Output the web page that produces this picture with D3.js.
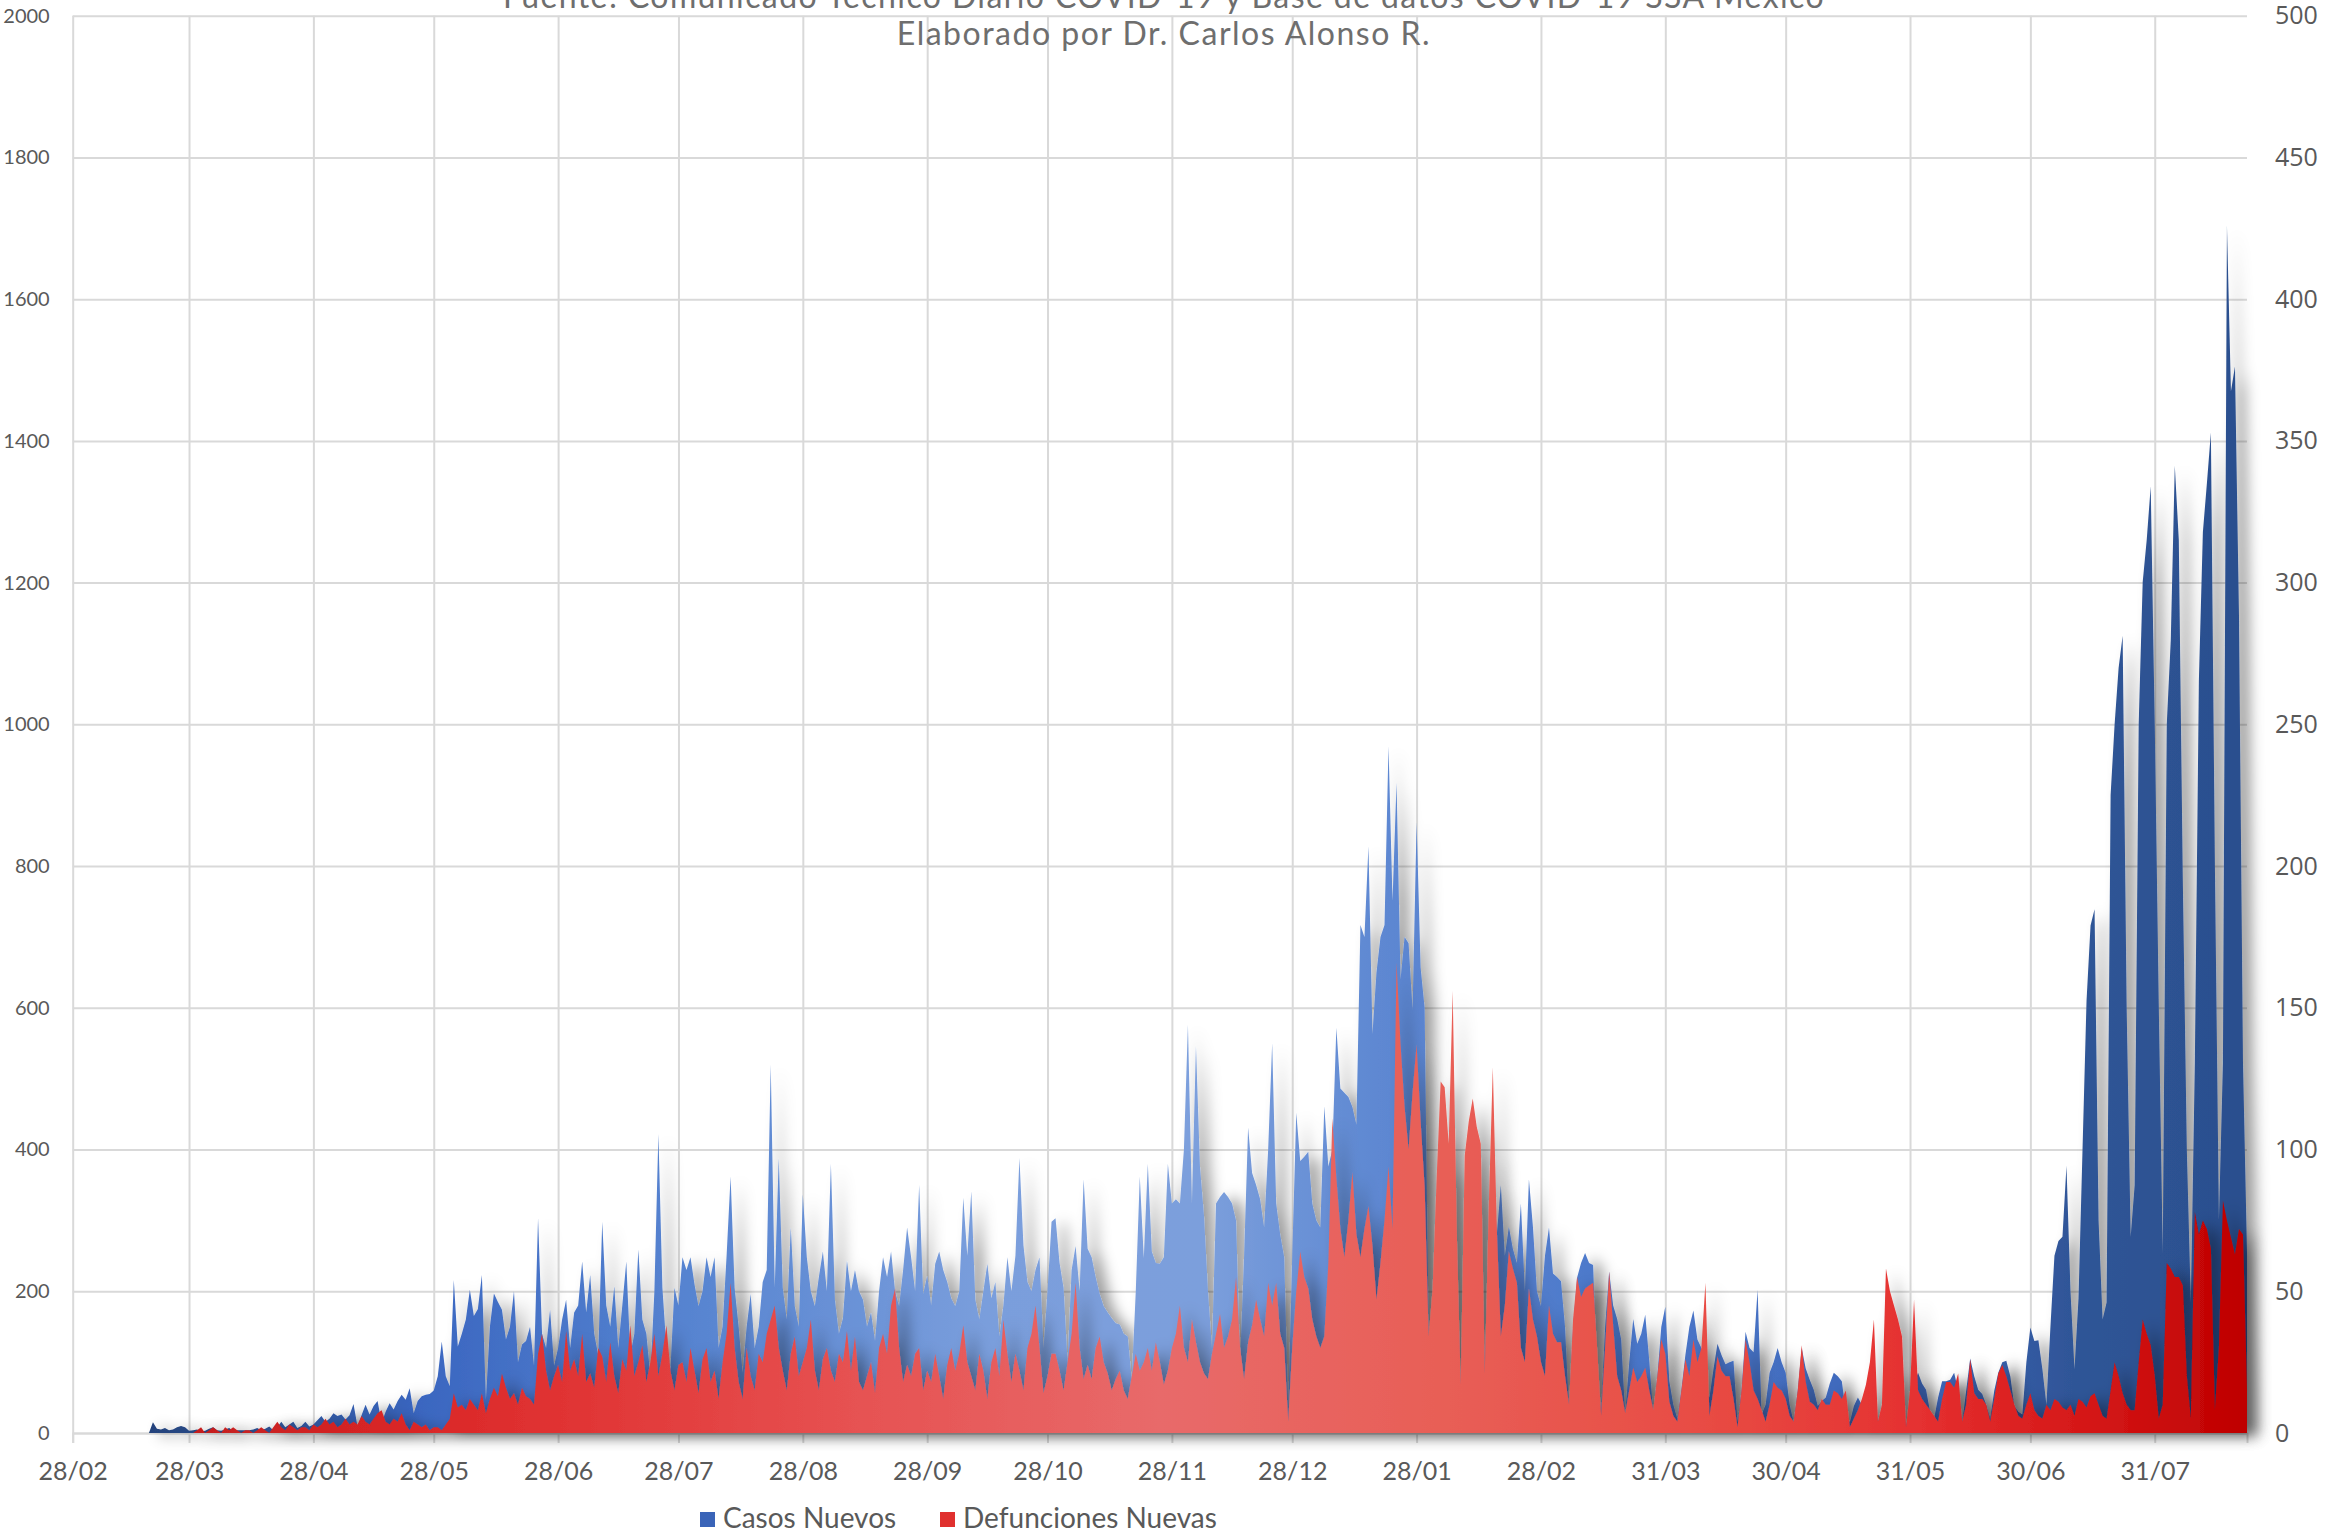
<!DOCTYPE html>
<html><head><meta charset="utf-8">
<script src="https://cdn.jsdelivr.net/npm/d3@7"></script>
<style>html,body{margin:0;padding:0;background:#fff;overflow:hidden}</style>
</head><body><svg id="chart" width="2335" height="1538"></svg>
<script>
const startDate = "2020-02-28";
const casosNuevos = [
0,0,0,0,0,0,0,0,0,0,
0,0,0,0,0,0,0,0,0,0,
15,6,5,7,4,5,8,10,8,3,
4,5,2,3,6,8,4,3,5,7,
3,4,4,4,4,5,7,4,6,9,
4,8,16,8,12,16,7,10,16,9,
12,18,24,16,20,28,24,26,19,25,
41,9,25,40,26,38,45,14,30,42,
33,45,54,47,63,28,45,52,54,55,
60,80,129,80,66,216,122,140,160,202,
165,175,223,47,150,197,185,174,132,150,
200,100,125,130,150,95,303,140,120,174,
95,120,160,188,120,170,180,242,170,223,
140,110,298,180,150,207,120,180,242,110,
140,259,160,140,80,200,422,205,120,90,
205,180,248,230,248,210,179,200,248,220,
248,120,150,250,362,205,150,85,150,196,
120,150,213,230,520,205,388,205,160,290,
179,150,337,248,200,179,220,256,200,380,
188,140,162,243,200,230,200,188,150,170,
130,200,248,220,256,200,179,230,290,248,
200,350,196,222,180,239,256,230,213,190,
179,200,332,250,341,188,160,200,239,190,
213,136,180,248,200,250,388,265,213,200,
230,248,120,200,298,303,240,205,100,230,
264,200,358,260,248,220,196,179,170,162,
155,153,140,136,76,200,362,247,380,256,
240,239,248,380,324,330,324,400,576,324,
546,376,307,200,119,324,333,340,333,324,
300,102,250,431,367,350,330,290,400,550,
324,280,248,33,250,452,384,390,397,324,
300,290,461,376,400,572,486,480,474,460,
435,717,700,828,563,650,700,717,969,751,
918,640,700,691,597,862,657,600,136,180,
250,400,420,350,380,260,60,300,380,400,
350,320,80,280,400,280,350,250,291,260,
240,324,200,358,291,200,179,250,290,225,
220,214,150,32,150,219,240,254,240,237,
80,30,150,228,180,161,132,26,100,161,
126,140,167,102,26,80,150,178,73,40,
20,61,110,150,173,132,120,60,50,90,
126,110,97,100,102,15,60,143,120,114,
202,26,40,85,100,120,100,85,40,15,
60,120,91,75,61,38,45,50,70,85,
80,73,30,15,38,50,40,15,30,60,
15,30,60,70,80,90,60,9,40,70,
85,70,61,30,20,50,73,73,75,85,
60,15,60,105,80,61,55,40,20,60,
85,100,102,80,38,30,26,100,149,130,
131,90,40,150,250,271,277,377,200,90,
190,400,610,716,739,300,160,184,900,1000,
1080,1125,600,277,350,1000,1201,1260,1336,1000,
605,254,1000,1119,1365,1260,780,400,184,523,
1061,1271,1340,1412,800,301,523,1704,1470,1505,
1154,523,254
];
const defuncionesNuevas = [
0,0,0,0,0,0,0,0,0,0,
0,0,0,0,0,0,0,0,0,0,
0,0,0,0,0,0,0,0,0,0,
0,1,2,0,1,2,1,0,2,1,
2,1,0,1,1,0,1,2,1,0,
2,4,2,1,3,2,1,2,2,1,
3,2,3,5,3,4,2,3,5,3,
4,3,6,4,3,5,7,8,4,3,
5,4,7,3,1,4,3,2,3,1,
2,2,1,3,5,14,9,10,8,12,
10,8,14,7,12,16,13,21,16,12,
14,10,16,13,12,10,28,35,22,15,
20,24,18,36,22,26,20,35,18,21,
16,30,27,18,32,20,14,26,22,38,
20,25,31,18,25,35,20,28,38,22,
15,24,25,18,30,22,14,26,30,18,
22,12,25,35,53,30,18,12,30,20,
15,28,25,35,40,45,30,22,15,28,
34,20,25,30,40,22,15,26,30,22,
18,28,25,36,22,34,18,15,20,25,
14,30,35,28,45,51,30,18,24,20,
28,30,15,22,18,28,20,12,24,30,
22,28,38,25,20,15,28,22,12,25,
30,20,40,28,18,28,22,15,30,35,
45,30,14,20,28,28,22,15,25,35,
53,30,19,24,19,30,34,25,21,15,
19,22,15,12,20,28,22,25,30,22,
32,25,17,22,30,35,45,30,25,40,
32,25,21,19,28,35,42,30,34,40,
55,30,19,32,38,47,40,34,53,45,
53,35,30,4,30,50,64,55,51,40,
34,30,34,60,111,90,72,62,75,92,
70,62,72,80,66,47,60,75,94,72,
166,137,115,100,120,137,110,87,34,51,
90,124,122,102,156,72,17,98,110,118,
108,102,21,80,129,72,34,45,64,58,
53,30,25,51,40,34,25,20,45,35,
32,32,20,10,40,55,48,51,52,53,
30,6,30,57,38,20,15,7,15,23,
18,20,23,15,8,20,33,28,11,6,
4,15,26,20,33,25,30,53,6,15,
27,22,20,20,12,2,15,33,25,15,
12,8,4,10,18,16,15,12,6,4,
15,31,18,11,10,8,12,10,10,15,
14,12,15,2,5,8,12,17,25,40,
4,10,58,50,45,40,34,2,15,47,
15,12,10,8,6,4,12,18,18,16,
21,4,10,26,14,12,12,10,4,12,
21,24,20,15,10,6,5,10,14,8,
6,5,10,8,12,11,9,8,10,6,
12,11,9,13,14,10,6,5,15,25,
20,14,10,8,8,25,40,35,31,20,
5,10,60,58,55,55,52,20,5,78,
70,75,72,65,8,30,82,75,69,63,
72,70,15
];
const tickDates = ["2020-02-28","2020-03-28","2020-04-28","2020-05-28","2020-06-28","2020-07-28",
  "2020-08-28","2020-09-28","2020-10-28","2020-11-28","2020-12-28","2021-01-28","2021-02-28",
  "2021-03-31","2021-04-30","2021-05-31","2021-06-30","2021-07-31"];
const tickLabels = ["28/02","28/03","28/04","28/05","28/06","28/07","28/08","28/09","28/10",
  "28/11","28/12","28/01","28/02","31/03","30/04","31/05","30/06","31/07"];
const leftTicks = [0,200,400,600,800,1000,1200,1400,1600,1800,2000];
const rightTicks = [0,50,100,150,200,250,300,350,400,450,500];
const titleLines = ["Fuente: Comunicado Técnico Diario COVID-19 y Base de datos COVID-19 SSA México",
  "Elaborado por Dr. Carlos Alonso R."];
const legendLabels = ["Casos Nuevos","Defunciones Nuevas"];

const svg = d3.select("#chart");
const M = {left:72.7, right:2247, top:15.7, bottom:1433};
const parse = d3.utcParse("%Y-%m-%d");
const t0 = parse(startDate);
const dates = casosNuevos.map((_, i) => d3.utcDay.offset(t0, i));
const x = d3.scaleUtc().domain([t0, dates[dates.length - 1]]).range([M.left, M.right]);
const yL = d3.scaleLinear().domain([0, 2000]).range([M.bottom, M.top]);
const yR = d3.scaleLinear().domain([0, 500]).range([M.bottom, M.top]);
const grid = "#D9D9D9", txt = "#595959";

const defs = svg.append("defs");
function grad(id, stops) {
  const g = defs.append("linearGradient").attr("id", id).attr("gradientUnits", "userSpaceOnUse")
    .attr("x1", M.left).attr("x2", M.right).attr("y1", 0).attr("y2", 0);
  stops.forEach(s => g.append("stop").attr("offset", s[0]).attr("stop-color", s[1]));
}
grad("gBlue", [[0,"#1F3A6E"],[0.08,"#2B4E8E"],[0.16,"#3A66C0"],[0.28,"#5683D0"],[0.42,"#7A9EDC"],
  [0.52,"#7C9FDC"],[0.60,"#5E88D2"],[0.72,"#4A76C9"],[0.85,"#3D66B8"],[0.92,"#2F5597"],[1,"#2B4F8E"]]);
grad("gRed", [[0,"#B81A1A"],[0.15,"#D92626"],[0.22,"#E03232"],[0.35,"#E65050"],[0.50,"#E86A6A"],
  [0.62,"#E86058"],[0.75,"#E84C44"],[0.85,"#E53030"],[0.93,"#D41616"],[1,"#BE0000"]]);

const f = defs.append("filter").attr("id", "sh").attr("x", "-2%").attr("y", "-5%")
  .attr("width", "106%").attr("height", "110%");
f.append("feGaussianBlur").attr("in", "SourceAlpha").attr("stdDeviation", 7);
f.append("feOffset").attr("dx", 10).attr("dy", 3).attr("result", "ob");
f.append("feFlood").attr("flood-color", "#000").attr("flood-opacity", 0.38);
f.append("feComposite").attr("in2", "ob").attr("operator", "in");
const fm = f.append("feMerge");
fm.append("feMergeNode");
fm.append("feMergeNode").attr("in", "SourceGraphic");

// horizontal gridlines
svg.append("g").attr("transform", `translate(${M.left},0)`)
  .call(d3.axisLeft(yL).tickValues(leftTicks).tickSize(-(M.right - M.left)).tickFormat(""))
  .call(g => g.select(".domain").remove())
  .call(g => g.selectAll("line").attr("stroke", grid).attr("stroke-width", 2));

// vertical gridlines
const tDates = tickDates.map(parse);
svg.append("g").attr("transform", `translate(0,${M.bottom})`)
  .call(d3.axisBottom(x).tickValues(tDates).tickSize(-(M.bottom - M.top)).tickFormat(""))
  .call(g => g.select(".domain").remove())
  .call(g => g.selectAll("line").attr("stroke", grid).attr("stroke-width", 2));

// bottom axis
const xa = svg.append("g").attr("transform", `translate(0,${M.bottom})`)
  .call(d3.axisBottom(x).tickValues(tDates).tickSize(10).tickPadding(19)
    .tickFormat((d, i) => tickLabels[i]));
xa.select(".domain").attr("stroke", grid).attr("stroke-width", 2);
xa.selectAll("line").attr("stroke", grid).attr("stroke-width", 2);
xa.selectAll("text").attr("font-family", "Lato").attr("font-size", 25).attr("fill", txt);

// areas
const areaBlue = d3.area().x((d, i) => x(dates[i])).y0(yL(0)).y1(d => yL(d));
const areaRed = d3.area().x((d, i) => x(dates[i])).y0(yR(0)).y1(d => yR(d));
svg.append("path").datum(casosNuevos).attr("d", areaBlue).attr("fill", "url(#gBlue)").attr("filter", "url(#sh)");
svg.append("path").datum(defuncionesNuevas).attr("d", areaRed).attr("fill", "url(#gRed)").attr("filter", "url(#sh)");

// left axis labels
const la = svg.append("g").attr("transform", `translate(${M.left},0)`)
  .call(d3.axisLeft(yL).tickValues(leftTicks).tickSize(0).tickPadding(23).tickFormat(d3.format("d")));
la.select(".domain").remove();
la.selectAll("text").attr("font-family", "Lato").attr("font-size", 20).attr("fill", txt);

// right axis labels
const ra = svg.append("g").attr("transform", `translate(${M.right},0)`)
  .call(d3.axisRight(yR).tickValues(rightTicks).tickSize(0).tickPadding(28).tickFormat(d3.format("d")));
ra.select(".domain").remove();
ra.selectAll("text").attr("font-family", "Open Sans").attr("font-size", 25).attr("fill", txt);

// titles
svg.append("text").attr("x", 1164).attr("y", 8).attr("text-anchor", "middle")
  .attr("font-family", "Lato").attr("font-size", 32).attr("letter-spacing", 1.4)
  .attr("fill", "#6E6E6E").text(titleLines[0]);
svg.append("text").attr("x", 1164).attr("y", 45).attr("text-anchor", "middle")
  .attr("font-family", "Lato").attr("font-size", 32).attr("letter-spacing", 1.5)
  .attr("fill", "#6E6E6E").text(titleLines[1]);

// legend
const leg = [{x:700, c:"#3A64B8", t:legendLabels[0]}, {x:940, c:"#E0302E", t:legendLabels[1]}];
leg.forEach(l => {
  svg.append("rect").attr("x", l.x).attr("y", 1512).attr("width", 15).attr("height", 15).attr("fill", l.c);
  svg.append("text").attr("x", l.x + 23).attr("y", 1528).attr("font-family", "Lato")
    .attr("font-size", 28).attr("fill", txt).text(l.t);
});
</script></body></html>
